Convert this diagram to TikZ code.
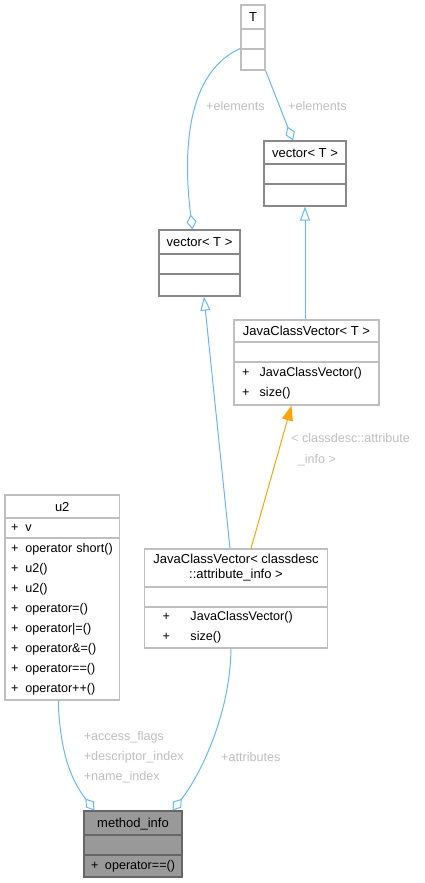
\documentclass[tikz,border=0pt]{standalone}
\usepackage{fontspec}
\setmainfont{Liberation Sans}
\usetikzlibrary{arrows.meta}

\definecolor{azul}{HTML}{63B8FF}
\definecolor{naranja}{HTML}{FFA500}
\definecolor{gris}{HTML}{BFBFBF}
\definecolor{grisosc}{HTML}{888888}
\definecolor{relleno}{HTML}{999999}
\definecolor{bordemi}{HTML}{666666}
\definecolor{etq}{RGB}{190,190,190}

\tikzset{
  caja/.style={draw=gris, line width=1.1pt, inner sep=0pt, font=\fontsize{12.6}{20}\selectfont},
  tit/.style={caja, font=\fontsize{13}{20}\selectfont, text height=9.3pt, text depth=0pt},
  metodos/.style={caja, align=left},
  oscuro/.style={draw=grisosc},
  marcada/.style={draw=bordemi, fill=relleno},
  etiq/.style={text=etq, font=\fontsize{12.6}{20}\selectfont, inner sep=0pt, align=left, anchor=west},
  agreg/.style={draw=azul, line width=1pt, -{Diamond[open,length=15pt,width=10pt]}},
  hereda/.style={draw=azul, line width=1pt, -{Triangle[open,length=14pt,width=10pt]}},
  plantilla/.style={draw=naranja, line width=1pt, -{Triangle[length=15pt,width=11pt]}}
}

\begin{document}
\begin{tikzpicture}[x=1pt,y=-1pt]
    \useasboundingbox (0,0) rectangle (425,883);
    %Plantilla T
    \node[tit, minimum width=24, minimum height=24]   (t1) at (253,17)   {T};
    \node[caja, minimum width=24, minimum height=20]  (t2) at (253,39)   {};
    \node[caja, minimum width=24, minimum height=21]  (t3) at (253,59.5) {};
    %vector derecha
    \node[tit, oscuro, minimum width=82, minimum height=23]  (vr1) at (305,152.5) {vector< T >};
    \node[caja, oscuro, minimum width=82, minimum height=20] (vr2) at (305,174)   {};
    \node[caja, oscuro, minimum width=82, minimum height=22] (vr3) at (305,195)   {};
    %vector izquierda
    \node[tit, oscuro, minimum width=81, minimum height=24]  (vl1) at (199.5,242) {vector< T >};
    \node[caja, oscuro, minimum width=81, minimum height=20] (vl2) at (199.5,264) {};
    \node[caja, oscuro, minimum width=81, minimum height=22] (vl3) at (199.5,285) {};
    %JavaClassVector generico
    \node[tit, minimum width=145, minimum height=22]  (jt1) at (306.5,331)   {JavaClassVector< T >};
    \node[caja, minimum width=145, minimum height=20] (jt2) at (306.5,352)   {};
    \node[metodos, text width=129, inner xsep=8, minimum height=43] (jt3) at (306.5,383.5)
        {\makebox[17.7pt][l]{+}JavaClassVector()\\\makebox[17.7pt][l]{+}size()};
    %JavaClassVector de attribute_info
    \node[caja, align=center, font=\fontsize{13}{20}\selectfont, minimum width=183, minimum height=38] (ja1) at (236,568)
        {JavaClassVector< classdesc\\[-5pt]::attribute\_info >};
    \node[caja, minimum width=183, minimum height=20] (ja2) at (236,597) {};
    \node[metodos, text width=147, inner xsep=18, minimum height=41] (ja3) at (236,627.5)
        {\makebox[28pt][l]{+}JavaClassVector()\\\makebox[28pt][l]{+}size()};
    %u2
    \node[tit, minimum width=114.5, minimum height=23] (u21) at (62.25,506.5) {u2};
    \node[metodos, text width=102.5, inner xsep=6, minimum height=20] (u22) at (62.25,528)
        {\makebox[14.3pt][l]{+}v};
    \node[metodos, text width=102.5, inner xsep=6, minimum height=162] (u23) at (62.25,619)
        {\makebox[14.3pt][l]{+}operator short()\\
         \makebox[14.3pt][l]{+}u2()\\
         \makebox[14.3pt][l]{+}u2()\\
         \makebox[14.3pt][l]{+}operator=()\\
         \makebox[14.3pt][l]{+}operator|=()\\
         \makebox[14.3pt][l]{+}operator\&=()\\
         \makebox[14.3pt][l]{+}operator==()\\
         \makebox[14.3pt][l]{+}operator++()};
    %method_info
    \node[tit, marcada, minimum width=98, minimum height=24]  (mi1) at (133,823) {method\_info};
    \node[caja, marcada, minimum width=98, minimum height=20] (mi2) at (133,845) {};
    \node[metodos, marcada, text width=84, inner xsep=7, minimum height=22] (mi3) at (133,866)
        {\makebox[14pt][l]{+}operator==()};
    %Relaciones
    \draw[agreg] (t3.north west) .. controls (180,75) and (185,170) .. ([xshift=-7pt]vl1.north);
    \draw[agreg] (t3.south east) -- ([xshift=-12pt]vr1.north);
    \draw[hereda] ([xshift=-1.5pt]jt1.north) -- (vr3.south);
    \draw[hereda] ([xshift=-6pt]ja1.north) -- ([xshift=4.5pt]vl3.south);
    \draw[plantilla] ([xshift=15pt]ja1.north) -- ([xshift=-15pt]jt3.south);
    \draw[agreg] ([xshift=-4pt]u23.south) .. controls (60,760) and (75,785) .. ([xshift=-38.5pt]mi1.north);
    \draw[agreg] ([xshift=-5pt]ja3.south) .. controls (230,720) and (196,781) .. ([xshift=39.5pt]mi1.north);
    %Etiquetas
    \node[etiq] (e1) at (206,106)   {+elements};
    \node[etiq] (e2) at (288,106)   {+elements};
    \node[etiq] (e3) at (291,450)   {< classdesc::attribute\\[1pt]\hspace*{6.7pt}\_info >};
    \node[etiq] (e4) at (83.6,757.5) {+access\_flags\\+descriptor\_index\\+name\_index};
    \node[etiq] (e5) at (221,757)   {+attributes};
\end{tikzpicture}
\end{document}
